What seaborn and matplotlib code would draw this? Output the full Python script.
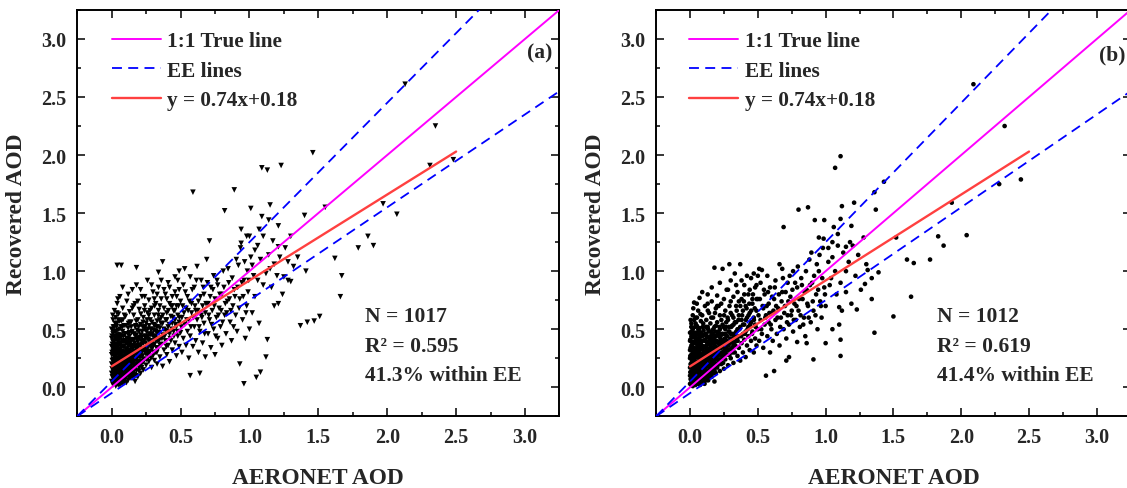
import numpy as np
import pandas as pd
import matplotlib
matplotlib.use("Agg")
import matplotlib.pyplot as plt
from matplotlib.ticker import MultipleLocator, FormatStrFormatter
import seaborn as sns

# ---------------------------------------------------------------
# Collocated AOD pairs: (AERONET AOD, recovered AOD)
# ---------------------------------------------------------------
pairs_a_core = [
    (0.00,0.05),(0.00,0.12),(0.00,0.20),(0.00,0.28),(0.00,0.35),(0.00,0.42),(0.00,0.50),
    (0.01,0.02),(0.01,0.08),(0.01,0.15),(0.01,0.24),(0.01,0.31),(0.01,0.39),(0.01,0.46),(0.01,0.58),
    (0.02,0.04),(0.02,0.10),(0.02,0.18),(0.02,0.26),(0.02,0.33),(0.02,0.44),(0.02,0.52),(0.02,0.66),
    (0.03,0.01),(0.03,0.07),(0.03,0.14),(0.03,0.21),(0.03,0.29),(0.03,0.37),(0.03,0.48),(0.03,0.60),
    (0.04,0.03),(0.04,0.11),(0.04,0.17),(0.04,0.25),(0.04,0.32),(0.04,0.40),(0.04,0.55),(0.04,0.72),
    (0.05,0.06),(0.05,0.13),(0.05,0.20),(0.05,0.28),(0.05,0.36),(0.05,0.45),(0.05,0.63),
    (0.06,0.02),(0.06,0.09),(0.06,0.16),(0.06,0.23),(0.06,0.30),(0.06,0.38),(0.06,0.50),(0.06,0.78),
    (0.07,0.05),(0.07,0.12),(0.07,0.19),(0.07,0.27),(0.07,0.34),(0.07,0.43),(0.07,0.57),
    (0.08,0.08),(0.08,0.15),(0.08,0.22),(0.08,0.31),(0.08,0.40),(0.08,0.48),(0.08,0.68),
    (0.09,0.04),(0.09,0.11),(0.09,0.18),(0.09,0.26),(0.09,0.35),(0.09,0.53),
    (0.10,0.07),(0.10,0.14),(0.10,0.21),(0.10,0.29),(0.10,0.38),(0.10,0.46),(0.10,0.61),
    (0.11,0.10),(0.11,0.17),(0.11,0.24),(0.11,0.33),(0.11,0.42),(0.11,0.74),
    (0.12,0.06),(0.12,0.13),(0.12,0.20),(0.12,0.28),(0.12,0.36),(0.12,0.51),
    (0.13,0.09),(0.13,0.16),(0.13,0.23),(0.13,0.31),(0.13,0.44),(0.13,0.65),
    (0.14,0.12),(0.14,0.19),(0.14,0.26),(0.14,0.34),(0.14,0.40),(0.14,0.56),
    (0.15,0.08),(0.15,0.15),(0.15,0.22),(0.15,0.30),(0.15,0.48),(0.15,0.84),
]
pairs_a_core_extra = [
    (0.005,0.09),(0.005,0.23),(0.005,0.37),(0.012,0.13),(0.012,0.29),(0.012,0.52),(0.018,0.06),
    (0.018,0.21),(0.018,0.40),(0.025,0.16),(0.025,0.33),(0.025,0.55),(0.032,0.10),(0.032,0.25),
    (0.032,0.43),(0.038,0.19),(0.038,0.35),(0.038,0.64),(0.045,0.08),(0.045,0.23),(0.045,0.49),
    (0.052,0.15),(0.052,0.31),(0.052,0.41),(0.058,0.04),(0.058,0.26),(0.058,0.57),(0.065,0.12),
    (0.065,0.21),(0.065,0.45),(0.072,0.08),(0.072,0.30),(0.072,0.38),(0.078,0.17),(0.078,0.26),
    (0.078,0.52),(0.085,0.11),(0.085,0.35),(0.085,0.44),(0.092,0.21),(0.092,0.30),(0.092,0.62),
    (0.098,0.10),(0.098,0.40),(0.105,0.17),(0.105,0.25),(0.105,0.53),(0.112,0.13),(0.112,0.37),
    (0.118,0.22),(0.118,0.30),(0.118,0.46),(0.125,0.09),(0.125,0.41),(0.132,0.19),(0.132,0.27),
    (0.132,0.56),(0.138,0.15),(0.138,0.36),(0.145,0.23),(0.145,0.47),(0.152,0.11),(0.152,0.33),
    (0.158,0.19),(0.158,0.40),(0.158,0.70),(0.165,0.15),(0.165,0.31),(0.172,0.24),(0.172,0.44),
    (0.178,0.10),(0.178,0.33),(0.178,0.57),(0.185,0.20),(0.185,0.49),(0.192,0.27),(0.192,0.36),
    (0.198,0.14),(0.198,0.42),(0.205,0.22),(0.205,0.31),(0.212,0.45),(0.212,0.63),(0.218,0.17),
    (0.218,0.37),(0.225,0.27),(0.225,0.52),(0.232,0.22),(0.232,0.33),(0.238,0.44),(0.238,0.66),
    (0.245,0.29),(0.245,0.38),(0.252,0.24),(0.252,0.48),(0.258,0.33),(0.258,0.58),(0.265,0.41),
    (0.272,0.29),(0.272,0.53),(0.278,0.36),(0.278,0.66),(0.285,0.25),(0.285,0.45),(0.292,0.33),
    (0.292,0.56),(0.298,0.40),(0.305,0.30),(0.305,0.49),(0.312,0.37),(0.312,0.70),(0.318,0.44),
    (0.325,0.34),(0.325,0.52),(0.332,0.40),(0.338,0.62),(0.345,0.47),(0.352,0.36),(0.358,0.55),
    (0.365,0.42),(0.372,0.62),(0.378,0.50),(0.385,0.44),(0.392,0.58),(0.398,0.35),(0.405,0.48),
    (0.412,0.66),(0.418,0.54),(0.425,0.42),(0.432,0.70),(0.438,0.50),(0.445,0.60),(0.452,0.44),
    (0.458,0.66),(0.465,0.54),(0.472,0.78),(0.478,0.48),(0.485,0.70),(0.492,0.60),
    (0.045,0.76),(0.08,0.86),(0.12,0.80),(0.15,0.68),(0.19,0.74),(0.21,0.84),(0.24,0.78),
    (0.27,0.62),(0.29,0.88),(0.31,0.76),(0.33,0.80),(0.35,0.70),(0.36,0.92),(0.38,0.84),
    (0.40,0.76),(0.42,0.86),(0.44,0.70),(0.46,0.82),(0.48,0.92),(0.49,1.00),
]
pairs_a_core_dense = [
    (0.003,0.16),(0.003,0.30),(0.003,0.44),(0.008,0.04),(0.008,0.19),(0.008,0.34),(0.008,0.62),
    (0.015,0.11),(0.015,0.27),(0.015,0.48),(0.022,0.07),(0.022,0.22),(0.022,0.36),(0.028,0.13),
    (0.028,0.31),(0.028,0.41),(0.035,0.05),(0.035,0.18),(0.035,0.28),(0.035,0.52),(0.042,0.13),
    (0.042,0.35),(0.042,0.45),(0.048,0.02),(0.048,0.17),(0.048,0.29),(0.048,0.58),(0.055,0.10),
    (0.055,0.24),(0.055,0.38),(0.062,0.06),(0.062,0.19),(0.062,0.33),(0.062,0.42),(0.068,0.14),
    (0.068,0.25),(0.068,0.52),(0.075,0.03),(0.075,0.21),(0.075,0.35),(0.082,0.12),(0.082,0.27),
    (0.082,0.58),(0.088,0.07),(0.088,0.19),(0.088,0.39),(0.095,0.14),(0.095,0.24),(0.095,0.46),
    (0.102,0.10),(0.102,0.33),(0.108,0.04),(0.108,0.19),(0.108,0.28),(0.108,0.42),(0.115,0.15),
    (0.115,0.39),(0.122,0.24),(0.122,0.32),(0.122,0.55),(0.128,0.12),(0.128,0.21),(0.128,0.47),
    (0.135,0.08),(0.135,0.29),(0.135,0.38),(0.142,0.16),(0.142,0.30),(0.142,0.52),(0.148,0.20),
    (0.148,0.41),(0.155,0.13),(0.155,0.26),(0.155,0.36),(0.162,0.08),(0.162,0.22),(0.162,0.46),
    (0.168,0.28),(0.168,0.38),(0.175,0.17),(0.175,0.53),(0.182,0.28),(0.182,0.41),(0.188,0.22),
    (0.188,0.34),(0.195,0.18),(0.195,0.52),(0.202,0.36),(0.202,0.43),(0.208,0.26),(0.215,0.20),
    (0.215,0.40),(0.222,0.33),(0.222,0.48),(0.228,0.24),(0.228,0.56),(0.235,0.40),(0.242,0.31),
    (0.242,0.52),(0.248,0.44),(0.255,0.30),(0.262,0.36),(0.262,0.50),(0.268,0.26),(0.268,0.44),
    (0.275,0.40),(0.282,0.50),(0.288,0.36),(0.295,0.46),(0.302,0.36),(0.308,0.54),(0.315,0.42),
    (0.322,0.48),(0.328,0.30),(0.335,0.52),(0.342,0.40),(0.348,0.58),
]
pairs_a_mid = [
    (0.16,0.11),(0.16,0.27),(0.16,0.41),(0.16,0.62),(0.17,0.05),(0.17,0.19),(0.17,0.35),(0.17,0.52),
    (0.17,0.72),(0.18,0.14),(0.18,0.24),(0.18,0.45),(0.18,0.88),(0.19,0.09),(0.19,0.31),(0.19,0.39),
    (0.19,0.58),(0.20,0.17),(0.20,0.26),(0.20,0.48),(0.20,0.67),(0.21,0.12),(0.21,0.36),(0.21,0.54),
    (0.22,0.21),(0.22,0.30),(0.22,0.43),(0.22,0.78),(0.23,0.15),(0.23,0.38),(0.23,0.60),(0.24,0.24),
    (0.24,0.33),(0.24,0.50),(0.24,0.70),(0.25,0.19),(0.25,0.42),(0.25,0.55),(0.26,0.28),(0.26,0.36),
    (0.26,0.64),(0.26,0.92),(0.27,0.22),(0.27,0.46),(0.27,0.75),(0.28,0.31),(0.28,0.39),(0.28,0.58),
    (0.29,0.17),(0.29,0.50),(0.29,0.68),(0.30,0.27),(0.30,0.35),(0.30,0.44),(0.30,0.82),(0.31,0.23),
    (0.31,0.53),(0.31,0.62),(0.32,0.30),(0.32,0.40),(0.32,0.72),(0.33,0.20),(0.33,0.47),(0.33,0.57),
    (0.34,0.34),(0.34,0.66),(0.34,0.86),(0.35,0.26),(0.35,0.42),(0.35,0.51),(0.36,0.37),(0.36,0.60),
    (0.36,0.76),(0.37,0.18),(0.37,0.45),(0.37,0.55),(0.38,0.32),(0.38,0.68),(0.37,1.08),(0.39,0.40),
    (0.39,0.49),(0.39,0.80),(0.40,0.28),(0.40,0.58),(0.40,0.64),(0.41,0.36),(0.41,0.52),(0.41,0.90),
    (0.42,0.22),(0.42,0.46),(0.42,0.72),(0.43,0.40),(0.43,0.61),(0.44,0.32),(0.44,0.55),(0.44,0.78),
    (0.45,0.48),(0.45,0.66),(0.46,0.38),(0.46,0.58),(0.46,0.95),(0.47,0.27),(0.47,0.52),(0.47,0.70),
    (0.48,0.44),(0.48,0.62),(0.49,0.35),(0.49,0.56),(0.49,0.84),(0.50,0.47),(0.50,0.74),
    (0.04,1.05),(0.07,1.05),(0.18,1.03),(0.34,0.99),
]
pairs_a_spread = [
    (0.51,0.30),(0.51,0.60),(0.52,0.42),(0.52,0.88),(0.53,0.54),(0.53,1.02),(0.54,0.36),(0.54,0.68),
    (0.55,0.48),(0.55,0.78),(0.56,0.25),(0.56,0.58),(0.57,0.10),(0.57,0.44),(0.57,0.95),(0.58,0.64),
    (0.58,0.72),(0.59,0.35),(0.59,1.68),(0.60,0.52),(0.60,0.86),(0.61,0.40),(0.61,0.66),(0.62,0.58),
    (0.62,1.04),(0.63,0.30),(0.63,0.74),(0.64,0.12),(0.64,0.48),(0.65,0.62),(0.65,0.92),(0.66,0.38),
    (0.66,0.70),(0.67,0.55),(0.67,0.80),(0.68,0.26),(0.68,0.64),(0.69,1.10),(0.70,0.46),(0.70,0.72),
    (0.71,1.26),(0.71,0.58),(0.72,0.34),(0.72,0.86),(0.73,0.66),(0.74,0.50),(0.74,0.96),(0.75,0.28),
    (0.75,0.76),(0.76,0.60),(0.77,0.42),(0.77,0.88),(0.78,0.68),(0.79,0.52),(0.80,0.36),(0.80,0.80),
    (0.81,1.00),(0.82,1.52),(0.82,0.62),(0.83,0.46),(0.84,0.74),(0.85,0.90),(0.86,0.56),(0.87,0.40),
    (0.88,0.70),(0.89,1.70),(0.89,0.84),(0.90,0.62),(0.91,0.48),(0.93,0.20),(0.92,1.05),(0.93,0.76),
    (0.94,1.36),(0.94,1.24),(0.95,0.58),(0.96,0.03),(0.96,0.92),(0.97,0.42),(0.98,1.30),(0.98,0.70),
    (0.99,0.82),(1.00,1.30),(1.00,0.50),(1.01,1.54),(1.01,1.12),
    (0.505,0.52),(0.515,0.70),(0.525,0.64),(0.535,0.82),(0.545,0.58),(0.555,0.66),(0.565,0.74),
    (0.575,0.52),(0.585,0.84),(0.595,0.60),(0.605,0.70),(0.615,0.92),(0.625,0.66),(0.635,0.52),
    (0.645,0.78),(0.655,0.60),(0.665,0.86),(0.675,0.46),(0.685,0.72),(0.695,0.90),(0.705,0.62),
    (0.715,0.78),(0.725,0.54),(0.735,0.84),(0.745,0.70),(0.755,0.44),(0.765,0.92),(0.775,0.62),
    (0.785,0.80),(0.795,0.66),(0.805,0.56),(0.815,0.86),(0.825,0.72),(0.835,0.64),(0.845,1.02),
    (0.855,0.76),(0.865,0.66),(0.875,0.94),(0.885,0.52),(0.895,0.78),(0.905,1.10),(0.915,0.86),
    (0.925,0.68),(0.935,1.20),(0.945,0.90),(0.955,0.78),(0.965,1.08),(0.975,0.64),(0.985,1.00),
    (0.995,0.92),
]
pairs_a_high = [
    (1.02,0.64),(1.03,0.96),(1.04,0.78),(1.05,0.085),(1.06,1.22),(1.07,1.36),(1.07,0.55),(1.08,0.13),
    (1.09,1.89),(1.09,1.47),(1.10,0.88),(1.12,0.26),(1.13,1.87),(1.13,0.41),(1.14,1.44),(1.15,1.57),
    (1.15,1.02),(1.17,1.26),(1.18,0.70),(1.21,1.39),(1.21,1.21),(1.21,0.72),(1.23,1.91),(1.25,0.95),
    (1.28,1.08),(1.30,1.30),(1.30,0.91),(1.35,1.12),(1.37,0.53),(1.40,1.48),(1.41,1.00),(1.42,0.56),
    (1.46,2.02),(1.47,0.57),(1.51,0.61),(1.55,1.55),(1.62,1.11),(1.66,0.78),(1.67,0.96),(1.79,1.20),
    (1.86,1.30),(1.90,1.22),(1.97,1.58),(2.07,1.49),(2.13,2.61),(2.31,1.91),(2.35,2.25),(2.48,1.96),
    (1.02,1.05),(1.04,1.18),(1.06,0.92),(1.08,1.10),(1.10,1.30),(1.12,0.98),(1.14,1.14),(1.16,0.86),
    (1.18,1.06),(1.20,0.96),(1.22,1.12),(1.24,0.80),(1.26,1.20),(1.28,0.92),(1.32,1.04),
]

pairs_b_core = [
    (0.00,0.03),(0.00,0.10),(0.00,0.17),(0.00,0.25),(0.00,0.32),(0.00,0.40),(0.00,0.47),
    (0.01,0.06),(0.01,0.13),(0.01,0.21),(0.01,0.28),(0.01,0.36),(0.01,0.44),(0.01,0.55),
    (0.02,0.01),(0.02,0.08),(0.02,0.16),(0.02,0.23),(0.02,0.31),(0.02,0.39),(0.02,0.50),(0.02,0.62),
    (0.03,0.04),(0.03,0.12),(0.03,0.19),(0.03,0.27),(0.03,0.34),(0.03,0.43),(0.03,0.58),(0.03,0.73),
    (0.04,0.02),(0.04,0.09),(0.04,0.15),(0.04,0.22),(0.04,0.30),(0.04,0.38),(0.04,0.47),(0.04,0.60),
    (0.05,0.06),(0.05,0.11),(0.05,0.18),(0.05,0.26),(0.05,0.33),(0.05,0.42),(0.05,0.53),
    (0.06,0.03),(0.06,0.14),(0.06,0.20),(0.06,0.28),(0.06,0.36),(0.06,0.46),(0.06,0.66),
    (0.07,0.07),(0.07,0.10),(0.07,0.17),(0.07,0.24),(0.07,0.32),(0.07,0.40),(0.07,0.51),(0.07,0.77),
    (0.08,0.05),(0.08,0.13),(0.08,0.21),(0.08,0.29),(0.08,0.37),(0.08,0.57),
    (0.09,0.08),(0.09,0.16),(0.09,0.23),(0.09,0.33),(0.09,0.44),(0.09,0.62),
    (0.10,0.04),(0.10,0.12),(0.10,0.19),(0.10,0.27),(0.10,0.35),(0.10,0.49),
    (0.11,0.09),(0.11,0.15),(0.11,0.22),(0.11,0.30),(0.11,0.41),(0.11,0.70),
    (0.12,0.06),(0.12,0.18),(0.12,0.25),(0.12,0.34),(0.12,0.45),(0.12,0.58),
    (0.13,0.11),(0.13,0.20),(0.13,0.28),(0.13,0.38),(0.13,0.52),(0.13,0.80),
    (0.14,0.08),(0.14,0.15),(0.14,0.24),(0.14,0.32),(0.14,0.43),(0.14,0.64),
    (0.15,0.13),(0.15,0.19),(0.15,0.27),(0.15,0.36),(0.15,0.55),
]
pairs_b_core_extra = [
    (0.004,0.07),(0.004,0.20),(0.004,0.34),(0.004,0.58),(0.011,0.11),(0.011,0.26),(0.011,0.48),
    (0.017,0.04),(0.017,0.18),(0.017,0.37),(0.024,0.14),(0.024,0.30),(0.024,0.68),(0.031,0.08),
    (0.031,0.22),(0.031,0.46),(0.037,0.17),(0.037,0.32),(0.037,0.52),(0.044,0.06),(0.044,0.26),
    (0.044,0.41),(0.051,0.13),(0.051,0.29),(0.051,0.60),(0.057,0.09),(0.057,0.21),(0.057,0.39),
    (0.064,0.16),(0.064,0.32),(0.064,0.49),(0.071,0.05),(0.071,0.27),(0.071,0.43),(0.077,0.14),
    (0.077,0.22),(0.077,0.63),(0.084,0.09),(0.084,0.33),(0.084,0.47),(0.091,0.18),(0.091,0.27),
    (0.091,0.40),(0.097,0.12),(0.097,0.55),(0.104,0.22),(0.104,0.31),(0.104,0.45),(0.111,0.16),
    (0.111,0.35),(0.117,0.07),(0.117,0.27),(0.117,0.52),(0.124,0.20),(0.124,0.39),(0.131,0.14),
    (0.131,0.33),(0.131,0.66),(0.137,0.24),(0.137,0.48),(0.144,0.18),(0.144,0.37),(0.151,0.10),
    (0.151,0.29),(0.151,0.44),(0.157,0.21),(0.157,0.60),(0.164,0.26),(0.164,0.38),(0.171,0.12),
    (0.171,0.33),(0.171,0.50),(0.177,0.23),(0.177,0.42),(0.184,0.17),(0.184,0.30),(0.184,0.64),
    (0.191,0.35),(0.191,0.53),(0.197,0.24),(0.197,0.40),(0.204,0.19),(0.204,0.46),(0.211,0.28),
    (0.211,0.70),(0.217,0.34),(0.217,0.52),(0.224,0.24),(0.224,0.42),(0.231,0.30),(0.231,0.58),
    (0.237,0.38),(0.244,0.21),(0.244,0.46),(0.251,0.34),(0.251,0.62),(0.257,0.28),(0.257,0.42),
    (0.264,0.52),(0.271,0.32),(0.271,0.40),(0.277,0.60),(0.284,0.36),(0.284,0.48),(0.291,0.28),
    (0.291,0.70),(0.297,0.42),(0.304,0.52),(0.311,0.34),(0.311,0.62),(0.317,0.46),(0.324,0.38),
    (0.331,0.56),(0.337,0.44),(0.344,0.66),(0.351,0.40),(0.357,0.58),(0.364,0.50),(0.371,0.70),
    (0.377,0.44),(0.384,0.62),(0.391,0.54),(0.397,0.74),(0.404,0.46),(0.411,0.58),(0.417,0.68),
    (0.424,0.50),(0.431,0.62),(0.437,0.72),(0.444,0.54),(0.451,0.66),(0.457,0.46),(0.464,0.80),
    (0.471,0.58),(0.477,0.68),(0.484,0.52),(0.491,0.76),
    (0.05,0.72),(0.09,0.82),(0.13,0.72),(0.16,0.86),(0.20,0.70),(0.22,0.90),(0.25,0.76),
    (0.28,0.84),(0.30,0.92),(0.32,0.78),(0.34,0.88),(0.36,0.74),(0.38,0.92),(0.40,0.80),
    (0.42,0.96),(0.44,0.84),(0.46,0.76),(0.47,0.98),(0.49,0.88),(0.50,0.96),
]
pairs_b_core_dense = [
    (0.002,0.13),(0.002,0.27),(0.002,0.41),(0.009,0.02),(0.009,0.17),(0.009,0.32),(0.009,0.52),
    (0.014,0.09),(0.014,0.24),(0.014,0.43),(0.021,0.05),(0.021,0.19),(0.021,0.34),(0.027,0.11),
    (0.027,0.28),(0.027,0.47),(0.034,0.03),(0.034,0.15),(0.034,0.25),(0.034,0.39),(0.041,0.11),
    (0.041,0.33),(0.041,0.55),(0.047,0.04),(0.047,0.20),(0.047,0.27),(0.047,0.45),(0.054,0.08),
    (0.054,0.22),(0.054,0.36),(0.061,0.05),(0.061,0.17),(0.061,0.30),(0.061,0.50),(0.067,0.12),
    (0.067,0.27),(0.067,0.41),(0.074,0.02),(0.074,0.19),(0.074,0.35),(0.081,0.10),(0.081,0.25),
    (0.081,0.44),(0.087,0.06),(0.087,0.17),(0.087,0.36),(0.094,0.13),(0.094,0.25),(0.094,0.52),
    (0.101,0.08),(0.101,0.30),(0.107,0.03),(0.107,0.17),(0.107,0.26),(0.107,0.40),(0.114,0.13),
    (0.114,0.46),(0.121,0.22),(0.121,0.31),(0.121,0.36),(0.127,0.10),(0.127,0.24),(0.127,0.43),
    (0.134,0.06),(0.134,0.27),(0.134,0.50),(0.141,0.13),(0.141,0.29),(0.141,0.40),(0.147,0.17),
    (0.147,0.33),(0.154,0.09),(0.154,0.24),(0.154,0.48),(0.161,0.15),(0.161,0.30),(0.161,0.42),
    (0.167,0.19),(0.167,0.34),(0.174,0.27),(0.174,0.45),(0.181,0.14),(0.181,0.38),(0.187,0.26),
    (0.187,0.48),(0.194,0.20),(0.194,0.31),(0.201,0.27),(0.201,0.39),(0.207,0.33),(0.214,0.24),
    (0.214,0.44),(0.221,0.36),(0.221,0.50),(0.227,0.28),(0.227,0.40),(0.234,0.46),(0.241,0.27),
    (0.241,0.36),(0.247,0.52),(0.254,0.38),(0.261,0.30),(0.261,0.46),(0.267,0.36),(0.267,0.56),
    (0.274,0.44),(0.281,0.32),(0.287,0.52),(0.294,0.38),(0.301,0.46),(0.307,0.40),(0.314,0.30),
    (0.321,0.54),(0.327,0.44),(0.334,0.36),(0.341,0.48),(0.347,0.42),
]
pairs_b_mid = [
    (0.16,0.09),(0.16,0.22),(0.16,0.33),(0.16,0.47),(0.16,0.74),(0.17,0.15),(0.17,0.28),(0.17,0.40),
    (0.17,0.60),(0.18,0.05),(0.18,0.20),(0.18,0.36),(0.18,0.52),(0.18,1.03),(0.19,0.12),(0.19,0.26),
    (0.19,0.44),(0.19,0.68),(0.20,0.17),(0.20,0.32),(0.20,0.56),(0.20,0.79),(0.21,0.23),(0.21,0.38),
    (0.21,0.48),(0.22,0.14),(0.22,0.29),(0.22,0.62),(0.23,0.20),(0.23,0.34),(0.23,0.45),(0.23,0.72),
    (0.24,0.26),(0.24,0.54),(0.24,1.02),(0.25,0.16),(0.25,0.31),(0.25,0.41),(0.26,0.24),(0.26,0.50),
    (0.26,0.66),(0.27,0.35),(0.27,0.44),(0.27,0.84),(0.28,0.19),(0.28,0.28),(0.28,0.58),(0.29,0.39),
    (0.29,0.48),(0.29,1.06),(0.30,0.25),(0.30,0.33),(0.30,0.64),(0.30,0.74),(0.31,0.42),(0.31,0.53),
    (0.32,0.21),(0.32,0.36),(0.32,0.60),(0.33,0.30),(0.33,0.46),(0.33,0.98),(0.34,0.40),(0.34,0.56),
    (0.34,0.70),(0.35,0.27),(0.35,0.50),(0.35,0.82),(0.36,0.34),(0.36,0.44),(0.36,0.62),(0.37,0.23),
    (0.37,0.52),(0.37,1.06),(0.38,0.38),(0.38,0.58),(0.38,0.76),(0.39,0.30),(0.39,0.46),(0.39,0.66),
    (0.40,0.41),(0.40,0.54),(0.40,0.88),(0.41,0.26),(0.41,0.48),(0.41,0.70),(0.42,0.36),(0.42,0.60),
    (0.43,0.44),(0.43,0.52),(0.43,0.80),(0.44,0.32),(0.44,0.64),(0.45,0.40),(0.45,0.56),(0.45,0.94),
    (0.46,0.48),(0.46,0.72),(0.47,0.30),(0.47,0.60),(0.48,0.42),(0.48,0.54),(0.48,0.86),(0.49,0.36),
    (0.49,0.66),(0.50,0.50),(0.50,0.76),
]
pairs_b_spread = [
    (0.51,0.40),(0.51,1.02),(0.52,0.58),(0.52,0.90),(0.53,1.01),(0.53,0.46),(0.54,0.68),(0.54,0.34),
    (0.55,0.54),(0.55,0.80),(0.56,0.10),(0.56,0.62),(0.57,0.44),(0.57,0.96),(0.58,0.56),(0.58,0.72),
    (0.59,0.30),(0.59,0.86),(0.60,0.50),(0.60,0.64),(0.61,0.40),(0.62,0.14),(0.62,0.76),(0.63,0.58),
    (0.63,0.92),(0.64,0.46),(0.65,0.68),(0.66,1.06),(0.66,0.36),(0.67,0.60),(0.68,1.02),(0.68,0.82),
    (0.69,0.50),(0.69,1.38),(0.70,0.70),(0.71,0.23),(0.71,0.42),(0.72,0.62),(0.72,0.90),(0.73,0.26),
    (0.73,0.54),(0.74,0.78),(0.75,0.66),(0.76,0.48),(0.76,1.00),(0.77,0.72),(0.78,0.58),(0.79,0.39),
    (0.79,0.86),(0.80,1.53),(0.80,0.66),(0.81,0.52),(0.82,0.94),(0.83,0.76),(0.84,0.60),(0.85,0.44),
    (0.86,0.38),(0.86,0.84),(0.87,1.55),(0.87,0.70),(0.88,1.10),(0.89,0.56),(0.90,0.90),(0.91,0.24),
    (0.91,0.66),(0.92,1.44),(0.93,0.80),(0.94,0.50),(0.95,1.29),(0.95,1.00),(0.96,0.74),(0.97,0.60),
    (0.98,1.20),(0.99,1.44),(0.99,0.86),(1.00,0.38),(1.00,0.70),
    (0.505,0.62),(0.515,0.76),(0.525,0.50),(0.535,0.70),(0.545,0.84),(0.555,0.60),(0.565,0.70),
    (0.575,0.82),(0.585,0.64),(0.595,0.54),(0.605,0.78),(0.615,0.66),(0.625,0.86),(0.635,0.70),
    (0.645,0.60),(0.655,0.80),(0.665,0.52),(0.675,0.74),(0.685,0.94),(0.695,0.64),(0.705,0.82),
    (0.715,0.56),(0.725,0.74),(0.735,0.96),(0.745,0.62),(0.755,0.84),(0.765,0.58),(0.775,0.90),
    (0.785,0.70),(0.795,1.04),(0.805,0.76),(0.815,0.62),(0.825,0.88),(0.835,0.54),(0.845,0.82),
    (0.855,1.00),(0.865,0.72),(0.875,0.60),(0.885,0.88),(0.895,1.16),(0.905,0.74),(0.915,0.96),
    (0.925,0.62),(0.935,1.06),(0.945,0.84),(0.955,1.14),(0.965,0.70),(0.975,0.94),(0.985,1.28),
    (0.995,0.80),
]
pairs_b_high = [
    (1.02,1.08),(1.04,0.94),(1.05,1.25),(1.05,0.50),(1.06,1.38),(1.07,1.89),(1.08,0.80),(1.09,1.22),
    (1.10,0.69),(1.10,0.54),(1.11,1.99),(1.11,1.45),(1.11,0.41),(1.11,0.27),(1.12,1.56),(1.12,0.66),
    (1.15,1.21),(1.15,1.00),(1.18,1.25),(1.19,1.39),(1.19,0.72),(1.21,1.59),(1.23,0.67),(1.28,1.29),
    (1.29,0.89),(1.31,1.01),(1.34,0.76),(1.36,1.68),(1.36,0.47),(1.37,1.53),(1.39,0.99),(1.43,1.77),
    (1.50,0.61),(1.52,1.29),(1.60,1.10),(1.63,0.78),(1.65,1.07),(1.77,1.10),(1.83,1.30),(1.87,1.22),
    (1.93,1.59),(2.04,1.31),(2.09,2.61),(2.28,1.75),(2.32,2.25),(2.44,1.79),
    (1.02,1.20),(1.03,0.88),(1.05,1.12),(1.07,1.00),(1.09,1.32),(1.11,0.90),(1.13,1.16),(1.15,0.82),
    (1.17,1.08),(1.20,1.22),(1.22,0.96),(1.24,1.14),(1.26,0.84),(1.30,1.06),(1.34,0.94),
]

# regression and expected-error envelope
fit_slope, fit_intercept = 0.74, 0.18
fit_range = (0.0, 2.5)
ee_abs, ee_rel = 0.05, 0.20
axis_range = (-0.25, 3.25)

panel_tags = ["(a)", "(b)"]
panel_stats = [
    ["N = 1017", "R\u00b2 = 0.595", "41.3% within EE"],
    ["N = 1012", "R\u00b2 = 0.619", "41.4% within EE"],
]
legend_labels = ["1:1 True line", "EE lines", "y = 0.74x+0.18"]

sns.set_theme(style="ticks")
plt.rcParams["font.family"] = ["Liberation Serif", "DejaVu Serif"]
plt.rcParams["font.weight"] = "bold"
plt.rcParams["axes.labelweight"] = "bold"

fig = plt.figure(figsize=(11.27, 4.89), dpi=100)
ax_a = fig.add_axes([0.0685, 0.1466, 0.4279, 0.8311])
ax_b = fig.add_axes([0.5822, 0.1466, 0.4211, 0.8311])


def draw_panel(ax, pairs, marker, size, tag, stats, stats_x, tag_x, tag_y, leg_x):
    df = pd.DataFrame(pairs, columns=["aeronet", "recovered"])
    sns.scatterplot(data=df, x="aeronet", y="recovered", ax=ax, marker=marker,
                    s=size, color="black", edgecolor="none", linewidth=0,
                    legend=False, zorder=2)
    lims = np.array(axis_range)
    ax.plot(lims, lims, color="#FF00FF", lw=1.4, zorder=3, label=legend_labels[0])
    ax.plot(lims, lims * (1 + ee_rel) + ee_abs, color="#0000FF", lw=1.3,
            ls=(0, (5.5, 3.5)), zorder=3, label=legend_labels[1])
    ax.plot(lims, lims * (1 - ee_rel) - ee_abs, color="#0000FF", lw=1.3,
            ls=(0, (5.5, 3.5)), zorder=3)
    xf = np.array(fit_range)
    ax.plot(xf, fit_slope * xf + fit_intercept, color="#FF4040", lw=1.7,
            zorder=4, label=legend_labels[2])

    ax.set_xlim(*axis_range)
    ax.set_ylim(*axis_range)
    for axis in (ax.xaxis, ax.yaxis):
        axis.set_major_locator(MultipleLocator(0.5))
        axis.set_minor_locator(MultipleLocator(0.25))
        axis.set_major_formatter(FormatStrFormatter("%.1f"))
    ax.tick_params(which="both", direction="in", top=True, right=True,
                   width=1.1, color="black")
    ax.tick_params(which="major", length=5.8, pad=8, labelsize=14.5)
    ax.tick_params(which="minor", length=3.0)
    for lab in ax.get_xticklabels() + ax.get_yticklabels():
        lab.set_fontweight("bold")
    for sp in ax.spines.values():
        sp.set_linewidth(1.4)
        sp.set_color("black")

    ax.set_xlabel("AERONET AOD", fontsize=16.8, fontweight="bold", labelpad=14)
    ax.set_ylabel("Recovered AOD", fontsize=16.8, fontweight="bold", labelpad=10)

    ax.legend(loc="upper left", bbox_to_anchor=(leg_x, 0.948), frameon=False,
              borderaxespad=0, borderpad=0, handlelength=2.3, handletextpad=0.3,
              labelspacing=0.45, prop={"size": 15.3, "weight": "bold"})

    ax.text(tag_x, tag_y, tag, transform=ax.transAxes, ha="right", va="center",
            fontsize=15.5, fontweight="bold")
    for i, line in enumerate(stats):
        ax.text(stats_x, 0.614 - 0.255 * i, line, ha="left", va="center",
                fontsize=15.5, fontweight="bold")


draw_panel(ax_a, pairs_a_core + pairs_a_core_extra + pairs_a_core_dense + pairs_a_mid
           + pairs_a_spread + pairs_a_high,
           "v", 16, panel_tags[0], panel_stats[0], 1.838, 0.9845, 0.896, 0.072)
draw_panel(ax_b, pairs_b_core + pairs_b_core_extra + pairs_b_core_dense + pairs_b_mid
           + pairs_b_spread + pairs_b_high,
           "o", 11, panel_tags[1], panel_stats[1], 1.82, 0.988, 0.891, 0.070)

fig.savefig("out.png", dpi=100)
